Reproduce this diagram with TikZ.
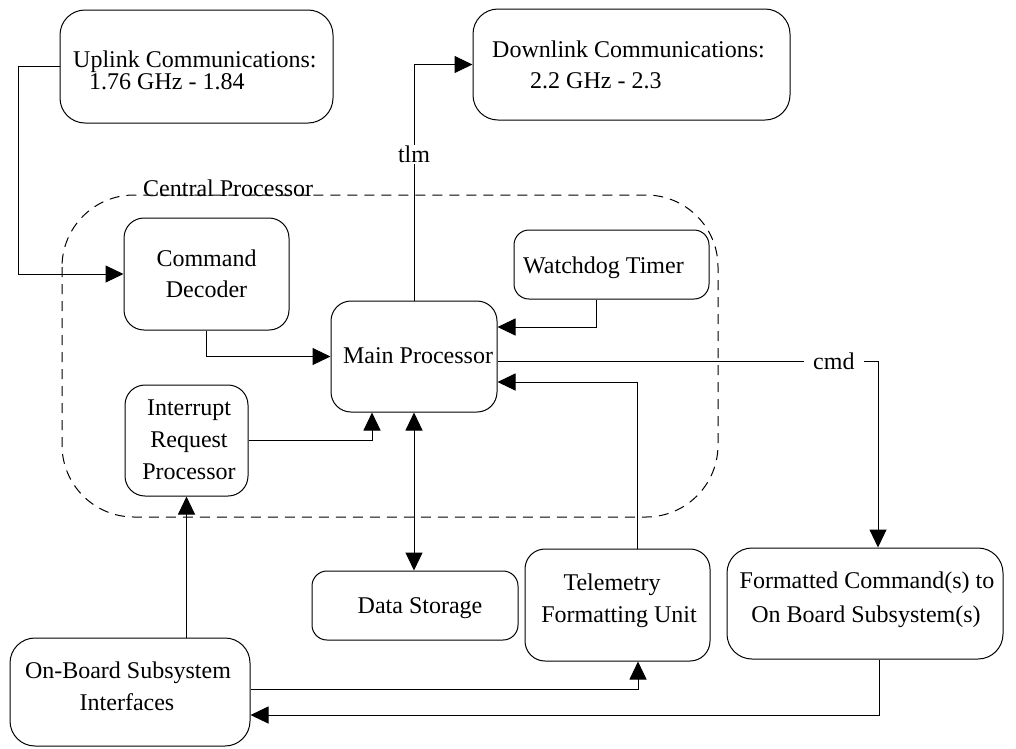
\documentclass[tikz,border=0pt]{standalone}
\usepackage{fontspec}
\setmainfont{Liberation Serif}
\usetikzlibrary{arrows.meta}
\begin{document}
\begin{tikzpicture}[x=1pt,y=-1pt,
  box/.style={draw, line width=1pt, rounded corners=20pt, inner sep=0pt},
  txt/.style={inner sep=0pt, font=\fontsize{24}{30}\selectfont},
  tag/.style={fill=white, inner sep=1pt, font=\fontsize{24}{30}\selectfont},
  arr/.style={line width=1pt, -{Triangle[length=18pt,width=17pt]}},
  arrboth/.style={line width=1pt, {Triangle[length=18pt,width=17pt]}-{Triangle[length=18pt,width=17pt]}},
  group/.style={draw, line width=1pt, dash pattern=on 10pt off 7pt, rounded corners=72pt}]
\useasboundingbox (0,0) rectangle (1016,748);

% central processor boundary
\draw[group] (62,195) rectangle (718,517);
\node[txt, anchor=base west] (cpl) at (143,196) {Central Processor};

% boxes
\node[box, rounded corners=25pt, minimum width=273pt, minimum height=113pt] (up) at (196.5,66.5) {};
\node[box, rounded corners=25pt, minimum width=317pt, minimum height=111pt] (down) at (631.5,64.5) {};
\node[box, minimum width=165pt, minimum height=112pt] (cd) at (206.5,274) {};
\node[box, minimum width=166pt, minimum height=111pt] (mp) at (414,356.5) {};
\node[box, rounded corners=15pt, minimum width=195pt, minimum height=69pt] (wd) at (611.5,264.5) {};
\node[box, minimum width=123pt, minimum height=111pt] (irq) at (186.5,440.5) {};
\node[box, rounded corners=15pt, minimum width=206pt, minimum height=69pt] (ds) at (415,605.5) {};
\node[box, minimum width=185pt, minimum height=112pt] (tfu) at (617.5,605) {};
\node[box, rounded corners=25pt, minimum width=276pt, minimum height=111pt] (fc) at (865,603.5) {};
\node[box, rounded corners=25pt, minimum width=240pt, minimum height=108pt] (obsi) at (130,692) {};

% box texts
\node[txt, anchor=base west] (upa) at (73,67) {Uplink Communications:};
\node[txt, anchor=base west] (upb) at (89,89) {1.76 GHz - 1.84};
\node[txt, anchor=base west] (downa) at (492,57) {Downlink Communications:};
\node[txt, anchor=base west] (downb) at (530,88) {2.2 GHz - 2.3};
\node[txt, anchor=base] (cda) at (206.5,266) {Command};
\node[txt, anchor=base] (cdb) at (206.5,297) {Decoder};
\node[txt, anchor=base] (mpa) at (418,363) {Main Processor};
\node[txt, anchor=base west] (wda) at (523,273) {Watchdog Timer};
\node[txt, anchor=base] (irqa) at (189,415) {Interrupt};
\node[txt, anchor=base] (irqb) at (189,447) {Request};
\node[txt, anchor=base] (irqc) at (189,479) {Processor};
\node[txt, anchor=base] (dsa) at (420,613) {Data Storage};
\node[txt, anchor=base] (tfua) at (612,590) {Telemetry};
\node[txt, anchor=base] (tfub) at (619,622) {Formatting Unit};
\node[txt, anchor=base] (fca) at (867,588) {Formatted Command(s) to};
\node[txt, anchor=base] (fcb) at (866,622) {On Board Subsystem(s)};
\node[txt, anchor=base] (obsia) at (128,678) {On-Board Subsystem};
\node[txt, anchor=base] (obsib) at (127,710) {Interfaces};

% connectors
\draw[arr] (up.west) -- ++(-41,0) |- (cd.west);
\draw[arr] (mp.north) |- node[tag, pos=0.31] {tlm} (down.west);
\draw[arr] (cd.south) |- (mp.west);
\draw[arr] ([xshift=-15.5pt]wd.south) |- ([yshift=29.5pt]mp.east);
\draw[arr] ([yshift=-4.5pt]mp.east) -| node[tag, pos=0.442, inner xsep=9pt] {cmd} ([xshift=13pt]fc.north);
\draw[arr] (irq.east) -| ([xshift=-42pt]mp.south);
\draw[arrboth] (mp.south) -- (mp.south |- ds.north);
\draw[arr] ([xshift=19.5pt]tfu.north) |- ([yshift=-25.5pt]mp.east);
\draw[arr] (irq.south |- obsi.north) -- (irq.south);
\draw[arr] ([yshift=3pt]obsi.east) -| ([xshift=20.5pt]tfu.south);
\draw[arr] ([xshift=14pt]fc.south) |- ([yshift=-23pt]obsi.east);
\end{tikzpicture}
\end{document}
